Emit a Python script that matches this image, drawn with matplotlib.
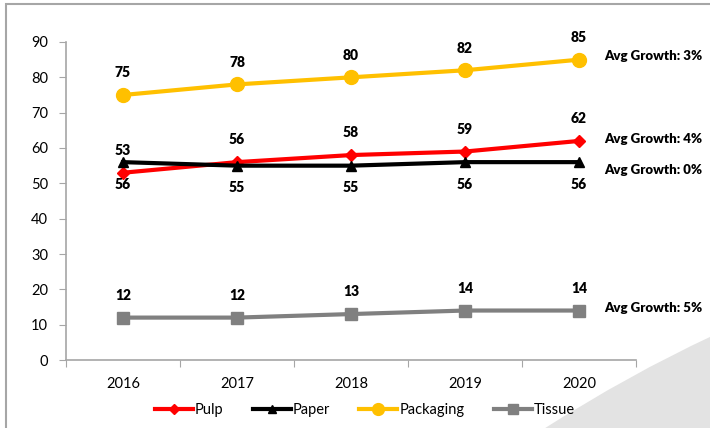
import matplotlib.pyplot as plt
from matplotlib.patches import PathPatch, Rectangle
from matplotlib.path import Path

years = ['2016', '2017', '2018', '2019', '2020']
pulp = [53, 56, 58, 59, 62]
paper = [56, 55, 55, 56, 56]
packaging = [75, 78, 80, 82, 85]
tissue = [12, 12, 13, 14, 14]
growth = {'Packaging': '3%', 'Pulp': '4%', 'Paper': '0%', 'Tissue': '5%'}

plt.rcParams['font.family'] = ['Lato', 'DejaVu Sans']

W, H = 710, 428
fig = plt.figure(figsize=(W / 100, H / 100), dpi=100)

# grey swoosh in the lower right corner
px = lambda x, y: (x / W, 1 - y / H)
swoosh = Path([px(542, 430), px(630, 374), px(712, 336), px(712, 430), px(542, 430)],
              [Path.MOVETO, Path.CURVE3, Path.CURVE3, Path.LINETO, Path.CLOSEPOLY])
fig.patches.append(PathPatch(swoosh, transform=fig.transFigure, facecolor='#e3e3e3',
                             edgecolor='none', zorder=0))
# frame around the chart area
fig.patches.append(Rectangle(px(6, 440), 1, 1 - 4 / H + 12 / H, transform=fig.transFigure,
                             fill=False, edgecolor='#a6a6a6', lw=1.5, zorder=1))

ax = fig.add_axes([66 / W, 1 - 360 / H, (636 - 66) / W, (360 - 42) / H])
ax.set_facecolor('none')

x = range(len(years))
series = [
    ('Pulp', pulp, '#ff0000', 'D', 6, 1),
    ('Paper', paper, '#000000', '^', 7, -1),
    ('Packaging', packaging, '#ffc000', 'o', 10, 1),
    ('Tissue', tissue, '#808080', 's', 9, 1),
]
for name, vals, color, marker, ms, side in series:
    ax.plot(x, vals, color=color, lw=3, marker=marker, ms=ms, label=name, zorder=3)
    for xi, v in zip(x, vals):
        ax.text(xi, v + side * 6.3, str(v), ha='center', va='center',
                fontsize=10, fontweight='heavy', color='black')

growth_y = {'Packaging': 86, 'Pulp': 62.5, 'Paper': 53.8, 'Tissue': 14.7}
for name, g in growth.items():
    ax.text(4.22, growth_y[name], f'Avg Growth: {g}', ha='left', va='center',
            fontsize=9.5, fontweight='heavy', clip_on=False)

ax.set_xlim(-0.5, 4.5)
ax.set_ylim(0, 90)
ax.set_yticks(range(0, 91, 10))
ax.set_xticks([i - 0.5 for i in range(6)], minor=False)
ax.set_xticklabels([])
ax.set_xticks(list(x), minor=True)
ax.set_xticklabels(years, minor=True)
ax.tick_params(axis='x', which='minor', length=0, pad=12, labelsize=10.5)
ax.tick_params(axis='x', which='major', length=5, color='#a6a6a6')
ax.tick_params(axis='y', length=5, color='#a6a6a6', labelsize=10.5, pad=8)
for s in ('top', 'right'):
    ax.spines[s].set_visible(False)
for s in ('left', 'bottom'):
    ax.spines[s].set_color('#a6a6a6')
    ax.spines[s].set_linewidth(1.2)

fig.legend(loc='center', bbox_to_anchor=(0.514, 0.042), ncol=4, frameon=False,
           fontsize=10.5, handlelength=2.6, handletextpad=0.15, columnspacing=2.0,
           markerscale=0.85)

fig.savefig('out.png', dpi=100)
